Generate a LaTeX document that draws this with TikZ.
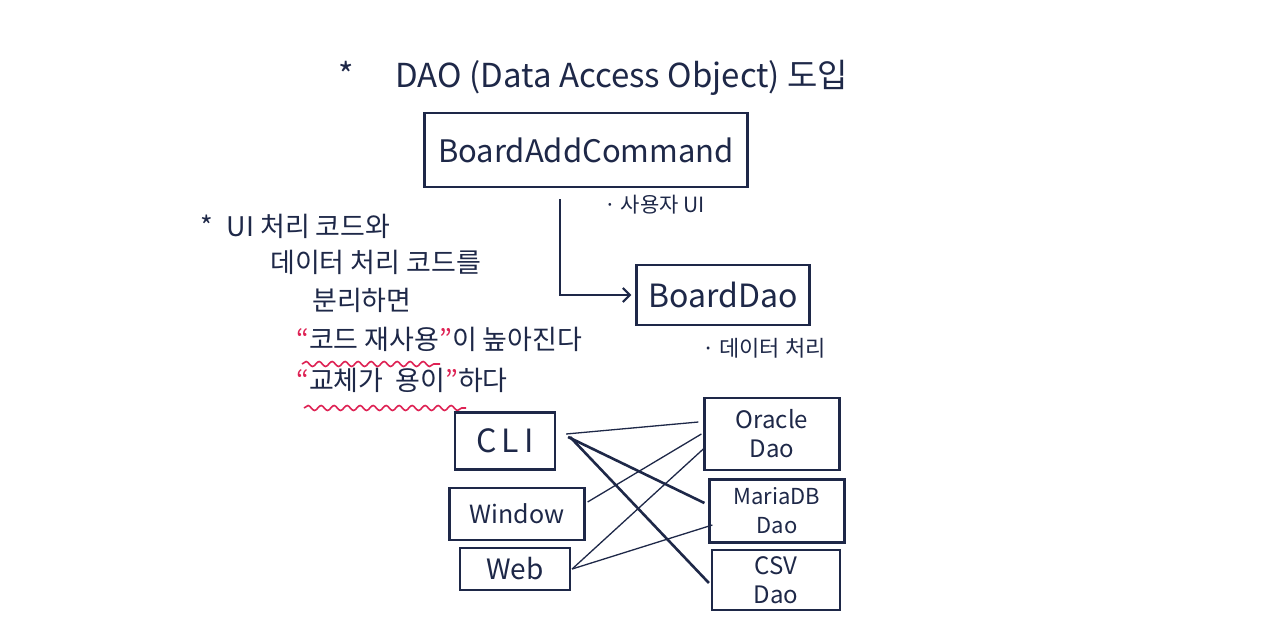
\documentclass[tikz,border=0pt]{standalone}
\usepackage{fontspec}
\setmainfont{Noto Sans CJK KR}
\usetikzlibrary{arrows.meta,decorations.pathmorphing}
\definecolor{ink}{RGB}{30,40,72}
\definecolor{marker}{RGB}{222,34,84}

\begin{document}
\begin{tikzpicture}[x=1pt,y=-1pt]
\tikzstyle{box} = [draw=ink,line width=2.2pt,text=ink,align=center,inner sep=0pt];
\tikzstyle{note} = [text=ink,anchor=west,inner sep=0pt];
\tikzstyle{wire} = [draw=ink,line width=1.3pt];
\tikzstyle{wave} = [draw=marker,line width=1.6pt,decorate,decoration={snake,amplitude=2.5pt,segment length=13pt}];
\useasboundingbox[fill=white] (0,0) rectangle (1280,635);

% title
\node[note,font=\fontsize{33}{40}\selectfont] (title) at (338,78) {*\hspace{42pt}DAO (Data Access Object) 도입};

\node[box,minimum width=323pt,minimum height=74pt,font=\fontsize{31}{38}\selectfont] (cmd) at (586,150) {BoardAddCommand};
\node[note,font=\fontsize{21}{25}\selectfont] (ui) at (604,205) {· 사용자 UI};
\node[box,minimum width=173pt,minimum height=60pt,font=\fontsize{32}{38}\selectfont] (dao) at (723,295) {BoardDao};
\node[note,font=\fontsize{22}{26}\selectfont] (data) at (702,348) {· 데이터 처리};
\draw[ink,line width=2.2pt,-{Straight Barb[length=7pt,width=14pt]}] ([xshift=-26pt,yshift=-11pt]cmd.south) |- ([xshift=-4pt]dao.west);

% left note
\node[note,font=\fontsize{27}{32}\selectfont] (t1) at (200,226) {*\hspace{14pt}UI 처리 코드와};
\node[note,font=\fontsize{27}{32}\selectfont] (t2) at (270,262) {데이터 처리 코드를};
\node[note,font=\fontsize{27}{32}\selectfont] (t3) at (312,300) {분리하면};
\node[note,font=\fontsize{27}{32}\selectfont] (t4) at (296,339) {\textcolor{marker}{“}코드 재사용\textcolor{marker}{”}이 높아진다};
\node[note,font=\fontsize{27}{32}\selectfont] (t5) at (296,380) {\textcolor{marker}{“}교체가 \ 용이\textcolor{marker}{”}하다};
\draw[wave] (302,364) -- (440,364);
\draw[wave] (304,408) -- (466,408);

% UI side
\node[box,minimum width=100pt,minimum height=57pt,font=\fontsize{32}{38}\selectfont] (cli) at (505,441) {C\,L\,I};
\node[box,minimum width=135pt,minimum height=52pt,font=\fontsize{25}{30}\selectfont] (win) at (517,514) {Window};
\node[box,minimum width=110pt,minimum height=42pt,font=\fontsize{28}{34}\selectfont] (web) at (515,569) {Web};

% DAO side
\node[box,minimum width=135pt,minimum height=72pt,font=\fontsize{24}{29}\selectfont] (ora) at (772,434) {Oracle\\Dao};
\node[box,minimum width=135pt,minimum height=63pt,font=\fontsize{22}{29}\selectfont] (maria) at (777,511) {MariaDB\\Dao};
\node[box,minimum width=128pt,minimum height=60pt,font=\fontsize{24}{29}\selectfont] (csv) at (776,580) {CSV\\Dao};

\draw[wire] ([xshift=10pt,yshift=7pt]cli.east) -- ([xshift=-5pt,yshift=12pt]ora.west);
\draw[wire,line width=2.6pt] ([xshift=12pt,yshift=4pt]cli.east) -- ([xshift=-4pt,yshift=8pt]maria.west);
\draw[wire,line width=2.6pt] ([xshift=14pt,yshift=4pt]cli.east) -- ([xshift=-2pt,yshift=-3pt]csv.west);
\draw[wire] ([xshift=2pt,yshift=12pt]win.east) -- ([xshift=-2pt]ora.west);
\draw[wire] ([xshift=1pt]web.east) -- ([xshift=1pt,yshift=-14pt]ora.west);
\draw[wire] ([xshift=1pt]web.east) -- ([xshift=4pt,yshift=-14pt]maria.west);
\end{tikzpicture}
\end{document}
